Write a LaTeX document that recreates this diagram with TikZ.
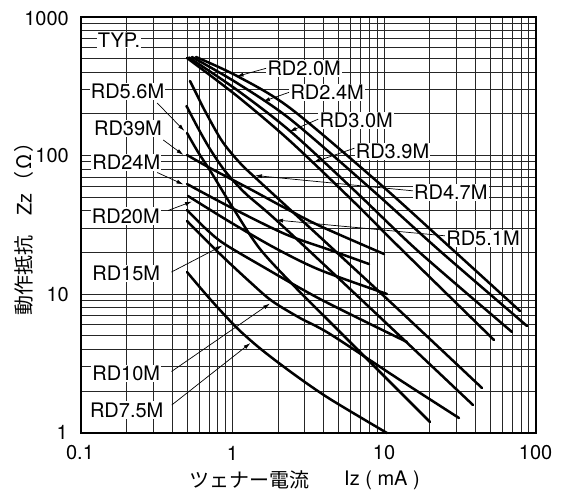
\documentclass[tikz,border=0pt]{standalone}
\usepackage{fontspec}
\setmainfont{TeX Gyre Heros}
\newfontfamily\jpfont{Noto Sans CJK JP}
\usetikzlibrary{arrows.meta}
\newcommand\lblsize{\fontsize{20}{22}\selectfont}
\begin{document}
\begin{tikzpicture}[x=1pt,y=-1pt,
  gridl/.style={line width=0.8pt,black!85},
  frameline/.style={line width=1.8pt},
  curve/.style={line width=2.5pt,line cap=round,line join=round},
  lead/.style={line width=0.7pt,-{Latex[length=7pt,width=4pt]}},
  lab/.style={fill=white,inner sep=1.2pt,font=\lblsize},
  tick/.style={inner sep=0pt,font=\lblsize}]
\useasboundingbox (0,0) rectangle (565,500);
% grid
\foreach \d in {0,1,2}{\foreach \m in {1,...,9}{
  \pgfmathsetmacro\gx{81+151.55*(\d+log10(\m))}
  \draw[gridl] (\gx,17) -- (\gx,432.6);
  \pgfmathsetmacro\gy{432.6-138.53*(\d+log10(\m))}
  \draw[gridl] (81,\gy) -- (535.6,\gy);
}}
\draw[frameline] (81,17) rectangle (535.6,432.6);
% tick labels
\node[tick,anchor=east] (y1000) at (69,19) {1000};
\node[tick,anchor=east] (y100) at (69,156) {100};
\node[tick,anchor=east] (y10) at (69,295) {10};
\node[tick,anchor=east] (y1) at (68,432) {1};
\node[tick] (x01) at (80,453) {0.1};
\node[tick] (x1) at (232.5,453) {1};
\node[tick] (x10) at (384,453) {10};
\node[tick] (x100) at (535.6,453) {100};
% axis titles
\node[rotate=90,inner sep=0pt,font=\lblsize] (ytitle) at (24,224) {{\jpfont 動作抵抗}\hspace{20pt}Zz\hspace{2pt}{\jpfont （}\hspace{2pt}{\jpfont Ω}\hspace{2pt}{\jpfont ）}};
\node[anchor=west,inner sep=0pt,font=\lblsize] (xtitle1) at (189,480) {\jpfont ツェナー電流};
\node[anchor=west,inner sep=0pt,font=\lblsize] (xtitle2) at (344,480) {Iz ( mA )};
% labels
\node[lab] (typ) at (119,40) {TYP.};
\node[lab] (l56) at (127.5,91.7) {RD5.6M};
\node[lab] (l390) at (128,128.3) {RD39M};
\node[lab] (l240) at (126.3,162.7) {RD24M};
\node[lab] (l200) at (125.8,216) {RD20M};
\node[lab] (l150) at (126.2,273.3) {RD15M};
\node[lab] (l100) at (126.2,373.3) {RD10M};
\node[lab] (l75) at (126.7,410) {RD7.5M};
\node[lab] (l20) at (304.2,68.3) {RD2.0M};
\node[lab] (l24) at (327.2,92.3) {RD2.4M};
\node[lab] (l30) at (356.2,120.7) {RD3.0M};
\node[lab] (l39) at (392.5,151.7) {RD3.9M};
\node[lab] (l47) at (450.8,192.3) {RD4.7M};
\node[lab] (l51) at (483,238.3) {RD5.1M};
% curves
\draw[curve] plot[smooth] coordinates {(196,57) (237,76) (290,108) (380,184) (453,250) (520,311)};
\draw[curve] plot[smooth] coordinates {(192,57) (237,83) (290,119) (370,188) (440,251) (527,326)};
\draw[curve] plot[smooth] coordinates {(189,57.5) (237,90) (290,131) (355,191) (418,251) (512,332)};
\draw[curve] plot[smooth] coordinates {(187,58) (237,96) (290,141) (355,203) (398,246) (494,340)};
\draw[curve] plot[smooth] coordinates {(190,81) (198,97) (205,111) (222,141) (240,163) (260,182) (320,237) (400,311) (482,388)};
\draw[curve] plot[smooth] coordinates {(186.5,106) (198,128) (210,149) (225,171) (245,193) (275,219) (350,289) (473,405)};
\draw[curve] plot[smooth] coordinates {(187,133) (198,152) (211,172) (233,208) (260,249) (297,289) (330,322) (430,422)};
\draw[curve] plot[smooth] coordinates {(187,155) (210,168) (250,189) (285,208) (320,226) (384,254)};
\draw[curve] plot[smooth] coordinates {(187,184) (230,207) (285,234) (330,250) (369,264)};
\draw[curve] plot[smooth] coordinates {(188,196) (230,222) (275,248) (320,270) (387,294)};
\draw[curve] plot[smooth] coordinates {(187,210) (205,228) (223,243) (260,265) (320,299) (407,342)};
\draw[curve] plot[smooth] coordinates {(187,221) (220,254) (250,282) (272,301) (300,318) (330,334) (400,380) (459,418)};
\draw[curve] plot[smooth] coordinates {(187,272) (210,299) (237,328) (262,350) (295,375) (330,399) (387,433)};
% arrow targets
\coordinate (t20) at (236.5,76.5);
\coordinate (t24) at (263,101.5);
\coordinate (t30) at (289.5,131.5);
\coordinate (t39) at (313,162.5);
\coordinate (t47) at (255,175.5);
\coordinate (t51) at (276,220);
\coordinate (t56) at (184.5,131);
\coordinate (t390) at (183.5,155);
\coordinate (t240) at (183.5,184.5);
\coordinate (t200) at (192,201.5);
\coordinate (t150) at (222.5,245.5);
\coordinate (t100) at (270,303.5);
\coordinate (t75) at (250.5,343);
% leaders
\draw[lead] (l20.west) -- (t20);
\draw[lead] (l24.west) -- (t24);
\draw[lead] ([shift={(0,-1.5)}]l30.west) -- (t30);
\draw[lead] ([shift={(0,-3.5)}]l39.west) -- (t39);
\draw[lead] ([shift={(0,-1.5)}]l47.west) -- (t47);
\draw[lead] ([shift={(0,-2.5)}]l51.west) -- (t51);
\draw[lead] ([shift={(-8.4,11.3)}]l56.east) -- (t56);
\draw[lead] ([shift={(0,11.7)}]l390.east) -- (t390);
\draw[lead] ([shift={(-4.4,9.8)}]l240.east) -- (t240);
\draw[lead] ([shift={(7,-5.5)}]l200.east) -- (t200);
\draw[lead] ([shift={(10,-1.3)}]l150.east) -- (t150);
\draw[lead] ([shift={(10,-1.8)}]l100.east) -- (t100);
\draw[lead] ([shift={(7,-5)}]l75.east) -- (t75);
\end{tikzpicture}
\end{document}
